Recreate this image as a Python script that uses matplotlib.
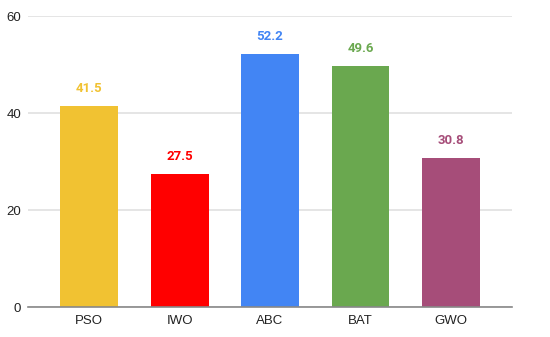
import matplotlib.pyplot as plt

# data
algos = ['PSO', 'IWO', 'ABC', 'BAT', 'GWO']
scores = [41.5, 27.5, 52.2, 49.6, 30.8]
colors = ['#f1c232', '#ff0000', '#4285f4', '#6aa84f', '#a64d79']
yticks = [0, 20, 40, 60]

plt.rcParams['font.family'] = ['Liberation Sans', 'DejaVu Sans']

fig = plt.figure(figsize=(5.5, 3.37), dpi=100)
ax = fig.add_axes([0.051, 0.089, 0.88, 0.8635])

x = range(len(algos))
bars = ax.bar(x, scores, width=0.64, color=colors, zorder=3)

for b, v, c in zip(bars, scores, colors):
    ax.annotate(f'{v}', (b.get_x() + b.get_width() / 2, v),
                xytext=(0, 8), textcoords='offset points',
                ha='center', va='bottom', color=c,
                fontsize=9.5, fontweight='bold', family='Roboto')

ax.set_xlim(-0.675, 4.675)
ax.set_ylim(0, 60)
ax.set_yticks(yticks)
ax.set_xticks(list(x))
ax.set_xticklabels(algos)
ax.grid(axis='y', color='#e0e0e0', linewidth=1.2, zorder=0)
ax.tick_params(length=0, labelsize=9.5, colors='#222222')
ax.tick_params(axis='y', pad=5)
ax.tick_params(axis='x', pad=6)
for s in ['top', 'right', 'left']:
    ax.spines[s].set_visible(False)
ax.spines['bottom'].set_color('#888888')
ax.spines['bottom'].set_linewidth(1.2)
ax.spines['bottom'].set_zorder(4)

fig.savefig('out.png', dpi=100)
